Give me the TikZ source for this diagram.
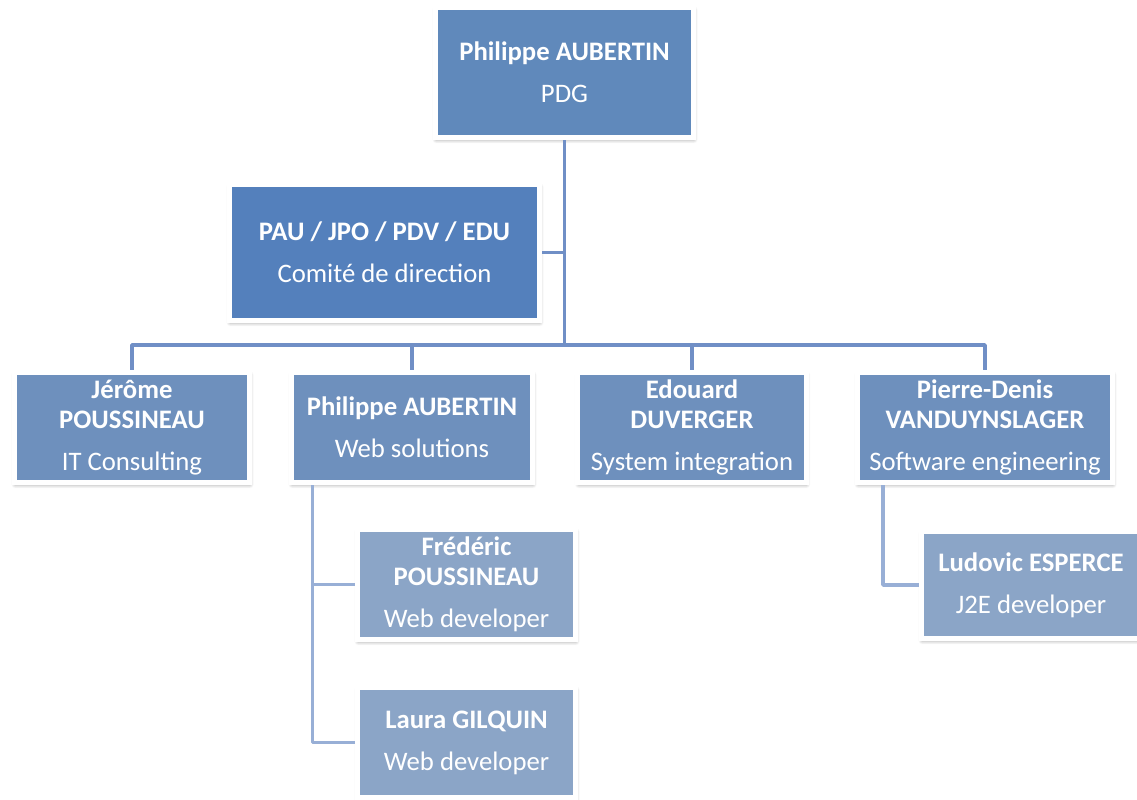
\documentclass[tikz,border=0pt]{standalone}
\usepackage{fontspec}
\setmainfont{Carlito}
\usepackage{tikz}
\usetikzlibrary{positioning, calc, shadows, shadows.blur}
\definecolor{ceocolor}{RGB}{96, 137, 187}
\definecolor{boardcolor}{RGB}{84, 128, 188}
\definecolor{headcolor}{RGB}{110, 144, 189}
\definecolor{devcolor}{RGB}{139, 165, 199}
\definecolor{linkcolor}{RGB}{112, 143, 198}
\definecolor{sublinkcolor}{RGB}{152, 175, 214}
\tikzset{
  orgbox/.style={rectangle, draw=white, line width=0.125cm, text=white, align=center,
    font=\fontsize{19}{21.3}\selectfont, inner sep=0pt,
    blur shadow={shadow xshift=0.4pt, shadow yshift=-1.6pt, shadow blur radius=2.6pt, shadow blur steps=6}},
  link/.style={draw=linkcolor, line width=2.6pt, line join=round},
  sublink/.style={draw=sublinkcolor, line width=2.6pt, line join=round}
}
\begin{document}
\begin{tikzpicture}[x=0.025cm, y=-0.025cm]
        \useasboundingbox (0,0) rectangle (1137,800);

        % Direction
        \node[orgbox, fill=ceocolor, minimum width=6.45cm, minimum height=3.25cm] (ceo) at (564.5,72.5) {\textbf{Philippe AUBERTIN}\\[8.7pt]PDG};
        \node[orgbox, fill=boardcolor, minimum width=7.75cm, minimum height=3.4cm] (board) at (384.5,252.5) {\textbf{PAU / JPO / PDV / EDU}\\[8.7pt]Comité de direction};
        \coordinate (bus) at (564.5,345);

        % Departments
        \node[orgbox, fill=headcolor, minimum width=5.875cm, minimum height=2.75cm] (consulting) at (132,427.5) {\textbf{Jérôme}\\\textbf{POUSSINEAU}\\[8.7pt]IT Consulting};
        \node[orgbox, fill=headcolor, minimum width=6.025cm, minimum height=2.75cm] (websol) at (412,427.5) {\textbf{Philippe AUBERTIN}\\[8.7pt]Web solutions};
        \node[orgbox, fill=headcolor, minimum width=5.7cm, minimum height=2.75cm] (integration) at (692,427.5) {\textbf{Edouard}\\\textbf{DUVERGER}\\[8.7pt]System integration};
        \node[orgbox, fill=headcolor, minimum width=6.375cm, minimum height=2.75cm] (software) at (985,427.5) {\textbf{Pierre-Denis}\\\textbf{VANDUYNSLAGER}\\[8.7pt]Software engineering};

        % Developers
        \node[orgbox, fill=devcolor, minimum width=5.45cm, minimum height=2.75cm] (webdev1) at (466.5,584.5) {\textbf{Frédéric}\\\textbf{POUSSINEAU}\\[8.7pt]Web developer};
        \node[orgbox, fill=devcolor, minimum width=5.45cm, minimum height=2.75cm] (webdev2) at (466.5,742.5) {\textbf{Laura GILQUIN}\\[8.7pt]Web developer};
        \node[orgbox, fill=devcolor, minimum width=5.475cm, minimum height=2.675cm] (j2edev) at (1031,585) {\textbf{Ludovic ESPERCE}\\[8.7pt]J2E developer};

        % Connecting lines
        \draw[link] (ceo) -- (bus);
        \draw[link] (board.east) -- (board.east -| bus);
        \draw[link] (consulting.north) |- (bus) -| (software.north);
        \draw[link] (websol.north) -- (websol.north |- bus);
        \draw[link] (integration.north) -- (integration.north |- bus);
        \draw[sublink] ($(websol.south west)+(23.5,0)$) |- (webdev1.west);
        \draw[sublink] ($(websol.south west)+(23.5,0)$) |- (webdev2.west);
        \draw[sublink] ($(software.south west)+(28,0)$) |- (j2edev.west);
    \end{tikzpicture}
\end{document}
